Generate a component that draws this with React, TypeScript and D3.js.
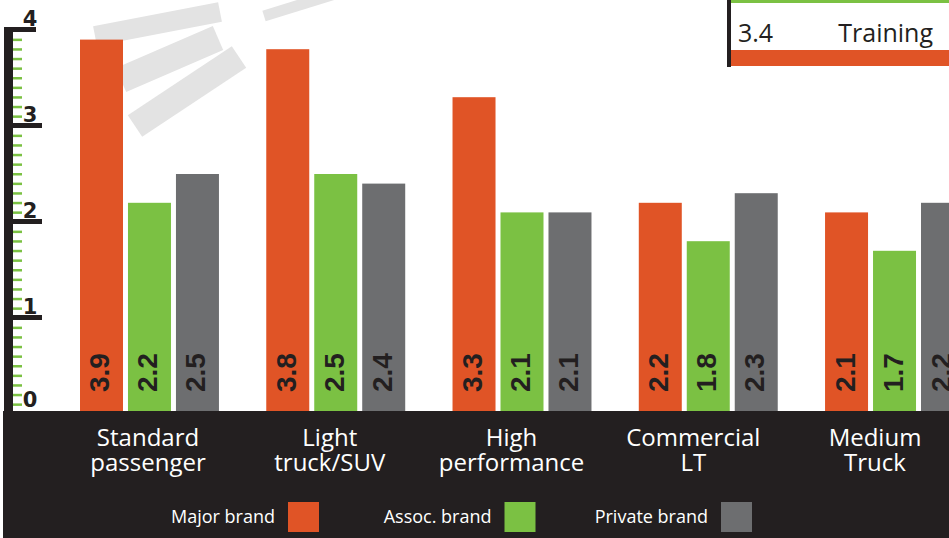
import React from "react";
import * as d3 from "d3";

const categories = ["Standard passenger", "Light truck/SUV", "High performance", "Commercial LT", "Medium Truck"];
const categoryLines = [["Standard", "passenger"], ["Light", "truck/SUV"], ["High", "performance"], ["Commercial", "LT"], ["Medium", "Truck"]];
const seriesNames = ["Major brand", "Assoc. brand", "Private brand"];
const majorValues = [3.9, 3.8, 3.3, 2.2, 2.1];
const assocValues = [2.2, 2.5, 2.1, 1.8, 1.7];
const privateValues = [2.5, 2.4, 2.1, 2.3, 2.2];
const yTicks = [0, 1, 2, 3, 4];
const insetValue = "3.4";
const insetLabel = "Training";

const colors = ["#e05426", "#7bc143", "#6d6e70"];
const dark = "#231f20";
const W = 949, H = 538;

export default function App() {
  const seriesValues = [majorValues, assocValues, privateValues];
  const y = d3.scaleLinear().domain([0, 4]).range([414, 30]);
  const x0 = d3.scaleBand<string>().domain(categories).range([80, 964]).paddingInner(0.254).paddingOuter(0);
  const x1 = d3.scaleBand<string>().domain(seriesNames).range([0, x0.bandwidth()]).paddingInner(0.104);
  const labelX = d3.scalePoint<string>().domain(categories).range([148, 875]);
  const minorTicks = d3.range(1, 40).filter((i) => i % 10 !== 0).map((i) => i / 10);
  const legendX = d3.scalePoint<string>().domain(seriesNames).range([288, 721]);
  const font = "'Open Sans', 'Noto Sans', sans-serif";

  return (
    <svg width={W} height={H} style={{ position: "fixed", left: 0, top: 0, background: "#fff" }}>
      {/* watermark */}
      <g stroke="#e3e3e3" strokeLinecap="butt" fill="none">
        <line x1={95} y1={36} x2={220} y2={12} strokeWidth={20} />
        <line x1={121} y1={80} x2={218} y2={38} strokeWidth={26} />
        <line x1={135} y1={126} x2={239} y2={57} strokeWidth={26} />
        <line x1={264} y1={16} x2={335} y2={-6} strokeWidth={11} />
      </g>

      {/* inset fragment */}
      <rect x={731} y={0} width={W - 731} height={3} fill={colors[1]} />
      <rect x={731} y={50} width={W - 731} height={16} fill={colors[0]} />
      <rect x={727} y={0} width={4} height={67} fill={dark} />
      <text x={738} y={42} fontFamily={font} fontSize={25} fill={dark}>{insetValue}</text>
      <text x={933} y={42} fontFamily={font} fontSize={25} fill={dark} textAnchor="end">{insetLabel}</text>

      {/* bars */}
      {categories.map((c, ci) => (
        <g key={c} transform={`translate(${x0(c)},0)`}>
          {seriesNames.map((s, si) => {
            const v = seriesValues[si][ci];
            const bx = x1(s)!;
            const bw = x1.bandwidth();
            return (
              <g key={s}>
                <rect x={bx} y={y(v)} width={bw} height={y(0) - y(v)} fill={colors[si]} />
                <text
                  transform={`translate(${bx + bw / 2 + 8},${392}) rotate(-90)`}
                  fontFamily="'Liberation Sans', Arial, sans-serif"
                  fontWeight="bold"
                  fontSize={28}
                  fill={dark}
                >
                  {v.toFixed(1)}
                </text>
              </g>
            );
          })}
        </g>
      ))}

      {/* bottom band */}
      <rect x={3} y={411} width={W - 3} height={H - 411} fill={dark} />

      {/* axis */}
      <rect x={4} y={27} width={9} height={411 - 27} fill={dark} />
      {minorTicks.map((t) => (
        <rect key={t} x={13} y={y(t) - 1} width={9} height={2.5} fill={colors[1]} />
      ))}
      {yTicks.filter((t) => t > 0).map((t) => (
        <rect key={t} x={4} y={y(t) - 3} width={t === 4 ? 32 : 38} height={5} fill={dark} />
      ))}
      {yTicks.map((t) => (
        <text
          key={t}
          x={30}
          y={t === 0 ? y(t) - 7 : y(t) - 4}
          textAnchor="middle"
          fontFamily="'DejaVu Sans', sans-serif"
          fontWeight="bold"
          fontSize={21}
          fill={dark}
        >
          {t}
        </text>
      ))}

      {/* category labels */}
      {categories.map((c, ci) => (
        <text key={c} textAnchor="middle" fontFamily={font} fontSize={24} fill="#fff">
          {categoryLines[ci].map((line, li) => (
            <tspan key={li} x={labelX(c)} y={446 + li * 25}>
              {line}
            </tspan>
          ))}
        </text>
      ))}

      {/* legend */}
      {seriesNames.map((s, si) => (
        <g key={s}>
          <rect x={legendX(s)} y={502} width={31} height={30} fill={colors[si]} />
          <text x={legendX(s)! - 13} y={523} textAnchor="end" fontFamily={font} fontSize={18} fill="#fff">
            {s}
          </text>
        </g>
      ))}
    </svg>
  );
}
